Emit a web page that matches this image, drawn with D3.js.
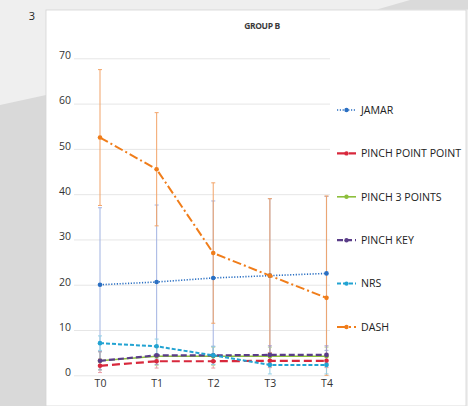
<!DOCTYPE html>
<html>
<head>
<meta charset="utf-8">
<script src="https://cdn.jsdelivr.net/npm/d3@7"></script>
<style>
  body { margin: 0; background: #fff; }
  svg { display: block; font-family: "Open Sans", sans-serif; }
</style>
</head>
<body>
<div id="chart"></div>
<script>
// data
const times = ["T0", "T1", "T2", "T3", "T4"];
const yTicks = [0, 10, 20, 30, 40, 50, 60, 70];
const seriesNames = ["JAMAR", "PINCH POINT POINT", "PINCH 3 POINTS", "PINCH KEY", "NRS", "DASH"];

const jamar = [20.0, 20.6, 21.5, 22.0, 22.5];
const jamarSd = [17, 17, 17, 17, 17];
const pinchPoint = [2.1, 3.1, 3.1, 3.2, 3.2];
const pinchPointSd = [1.5, 1.5, 1.5, 1.5, 1.5];
const pinch3 = [3.2, 4.2, 4.2, 4.2, 4.2];
const pinch3Sd = [2, 2, 2, 2, 2];
const pinchKey = [3.2, 4.4, 4.4, 4.5, 4.5];
const pinchKeySd = [2, 2, 2, 2, 2];
const nrs = [7.1, 6.4, 4.4, 2.3, 2.3];
const nrsSd = [1.6, 1.6, 2, 2, 2];
const dash = [52.5, 45.5, 27.0, 22.0, 17.1];
const dashSd = [15, 12.5, 15.5, 17, 22.5];

const W = 468, H = 406;

const svg = d3.select("#chart").append("svg")
  .attr("width", W)
  .attr("height", H);

// page background
svg.append("rect").attr("width", W).attr("height", H).attr("fill", "#efefef");
svg.append("polygon").attr("points", "0,105 46,95 46,406 0,406").attr("fill", "#d9d9d9");
svg.append("polygon").attr("points", "377,9.5 410,0 468,0 468,9.5").attr("fill", "#dadada");
svg.append("rect").attr("x", 46).attr("y", 10).attr("width", 420).attr("height", 396)
  .attr("fill", "#fff").attr("stroke", "#d4d4d4").attr("stroke-width", 0.8);
svg.append("text").attr("x", 32).attr("y", 20).attr("text-anchor", "middle")
  .attr("font-size", 11).attr("fill", "#222").text("3");

// scales
const x = d3.scalePoint().domain(times).range([100, 326.5]);
const y = d3.scaleLinear().domain([0, 70]).range([375.3, 58.3]);

// title
svg.append("text").attr("x", 262).attr("y", 29).attr("text-anchor", "middle")
  .attr("font-size", 8.5).attr("font-weight", "bold").attr("fill", "#3a3a3a")
  .attr("letter-spacing", -0.4).text("GROUP B");

// grid
const grid = svg.append("g");
grid.call(d3.axisLeft(y).tickValues(yTicks).tickSize(0).tickFormat(""))
  .call(g => g.select(".domain").remove());
grid.selectAll(".tick").append("line")
  .attr("x1", 74).attr("x2", 330).attr("stroke", "#e6e6e6").attr("stroke-width", 1);

// y labels
svg.append("g").attr("transform", "translate(71,-3)")
  .call(d3.axisLeft(y).tickValues(yTicks).tickSize(0).tickPadding(0))
  .call(g => g.select(".domain").remove())
  .call(g => g.selectAll("text").attr("font-size", 10.5).attr("fill", "#333")
    .attr("font-family", "Open Sans, sans-serif"));

// x labels
svg.append("g").attr("transform", "translate(0,380)")
  .call(d3.axisBottom(x).tickSize(0).tickPadding(0))
  .call(g => g.select(".domain").remove())
  .call(g => g.selectAll("text").attr("font-size", 10.5).attr("fill", "#333")
    .attr("font-family", "Open Sans, sans-serif"));

const series = [
  { name: seriesNames[0], vals: jamar, sd: jamarSd, color: "#2a6fc2", bar: "#a2b2e2", dash: "1.2,1.6", w: 1.6 },
  { name: seriesNames[1], vals: pinchPoint, sd: pinchPointSd, color: "#d8283c", bar: "#e99aa3", dash: "8,4", w: 2.2 },
  { name: seriesNames[2], vals: pinch3, sd: pinch3Sd, color: "#8dbf3c", bar: "#bcd99a", dash: null, w: 1.6 },
  { name: seriesNames[3], vals: pinchKey, sd: pinchKeySd, color: "#5a3d88", bar: "#a597c4", dash: "6,3", w: 2.2 },
  { name: seriesNames[4], vals: nrs, sd: nrsSd, color: "#22a3d2", bar: "#95cfe6", dash: "4,2", w: 2 },
  { name: seriesNames[5], vals: dash, sd: dashSd, color: "#f07d1a", bar: "#f3a468", dash: "9,3,2,3", w: 2 }
];

// error bars (drawn first, big ones behind)
const barsOrder = [series[0], series[5], series[1], series[2], series[3], series[4]];
barsOrder.forEach(s => {
  const g = svg.append("g");
  times.forEach((t, i) => {
    const lo = Math.max(0, s.vals[i] - s.sd[i]);
    const hi = s.vals[i] + s.sd[i];
    g.append("line").attr("x1", x(t)).attr("x2", x(t))
      .attr("y1", y(lo)).attr("y2", y(hi))
      .attr("stroke", s.bar).attr("stroke-width", 1.1).attr("opacity", 0.9);
    [lo, hi].forEach(v => g.append("line")
      .attr("x1", x(t) - 2).attr("x2", x(t) + 2)
      .attr("y1", y(v)).attr("y2", y(v))
      .attr("stroke", s.bar).attr("stroke-width", 1));
  });
});

// lines
const line = d3.line().x((d, i) => x(times[i])).y(d => y(d));
const drawOrder = [series[2], series[3], series[1], series[4], series[0], series[5]];
drawOrder.forEach(s => {
  svg.append("path").datum(s.vals)
    .attr("d", line)
    .attr("fill", "none")
    .attr("stroke", s.color)
    .attr("stroke-width", s.w)
    .attr("stroke-dasharray", s.dash);
  svg.selectAll(null).data(s.vals).join("circle")
    .attr("cx", (d, i) => x(times[i]))
    .attr("cy", d => y(d))
    .attr("r", 2.3)
    .attr("fill", s.color);
});

// legend
const legend = svg.append("g");
series.forEach((s, i) => {
  const ly = 110 + i * 43.4;
  legend.append("line").attr("x1", 337).attr("x2", 356).attr("y1", ly).attr("y2", ly)
    .attr("stroke", s.color).attr("stroke-width", s.w).attr("stroke-dasharray", s.dash);
  legend.append("circle").attr("cx", 346.5).attr("cy", ly).attr("r", 2.2).attr("fill", s.color);
  legend.append("text").attr("x", 361).attr("y", ly).attr("dy", "0.35em")
    .attr("font-size", 10.6).attr("fill", "#222").text(s.name);
});
</script>
</body>
</html>
